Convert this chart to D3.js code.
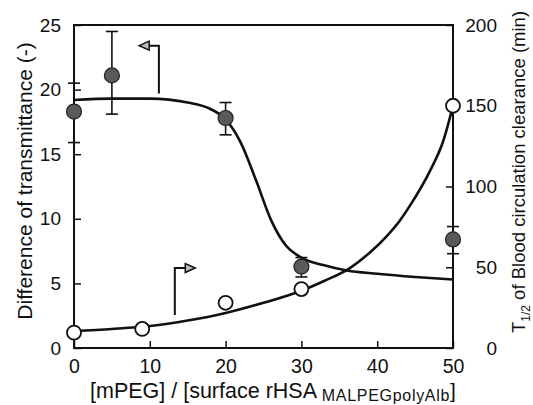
<!DOCTYPE html>
<html>
<head>
<meta charset="utf-8">
<script src="https://cdn.jsdelivr.net/npm/d3@7"></script>
<style>
  html, body { margin: 0; padding: 0; background: #fff; }
  svg { display: block; font-family: "Liberation Sans", Arial, Helvetica, sans-serif; }
</style>
</head>
<body>
<svg id="chart" width="533" height="405"></svg>
<script>
// ---- data ----
const xTicks = [0, 10, 20, 30, 40, 50];
const leftTicks = [0, 5, 10, 15, 20, 25];
const rightTicks = [0, 50, 100, 150, 200];

// Difference of transmittance (filled circles, left axis)
const transX = [0, 5, 20, 30, 50];
const transY = [18.3, 21.1, 17.8, 6.3, 8.4];
const transHi = [20.5, 24.5, 19.0, 7.0, 9.4];
const transLo = [15.9, 18.1, 16.5, 5.5, 7.3];

// fitted curve for transmittance
const transCurveX = [0, 5, 10, 15, 18, 20, 22, 24, 26, 28, 30, 33, 36, 40, 45, 50];
const transCurveY = [19.2, 19.3, 19.3, 19.0, 18.5, 17.7, 15.9, 13.0, 9.9, 7.9, 7.0, 6.4, 6.0, 5.75, 5.5, 5.3];

// T1/2 of blood circulation clearance (open circles, right axis)
const halfX = [0, 9, 20, 30, 50];
const halfY = [9.5, 11.8, 28, 36.5, 150];

// fitted curve for T1/2
const halfCurveX = [0, 5, 10, 15, 20, 25, 30, 33, 36.4, 39, 41.3, 43, 44.3, 47, 48.7, 50];
const halfCurveY = [10.5, 11.8, 13.6, 17, 21.7, 28, 35.5, 41.5, 49.5, 59, 69.5, 79, 88, 110, 128, 150];

// direction arrows: [x of stem, y start, y end, x tip] in data units
const leftArrow = [11.2, 19.7, 23.4, 8.6];    // left axis units
const rightArrow = [13.3, 20.4, 49.5, 16.0];  // right axis units

// ---- layout ----
const svg = d3.select("#chart");
const L = 74, R = 453, T = 25, B = 348;
const x = d3.scaleLinear().domain([0, 50]).range([L, R]);
const yL = d3.scaleLinear().domain([0, 25]).range([B, T]);
const yR = d3.scaleLinear().domain([0, 200]).range([B, T]);

// frame
svg.append("rect").attr("x", L).attr("y", T).attr("width", R - L).attr("height", B - T)
  .attr("fill", "none").attr("stroke", "#111").attr("stroke-width", 2);

// axes with inward ticks
const axB = svg.append("g").attr("transform", `translate(0,${B})`)
  .call(d3.axisBottom(x).tickValues(xTicks).tickSize(-7).tickPadding(11).tickFormat(d3.format("d")));
axB.selectAll("text").attr("font-size", 19.5).attr("fill", "#111");

const axL = svg.append("g").attr("transform", `translate(${L},0)`)
  .call(d3.axisLeft(yL).tickValues(leftTicks).tickSize(-7).tickPadding(13).tickFormat(d3.format("d")));
axL.selectAll("text").attr("font-size", 19).attr("fill", "#111");

const axR = svg.append("g").attr("transform", `translate(${R},0)`)
  .call(d3.axisRight(yR).tickValues(rightTicks).tickSize(-7).tickPadding(10).tickFormat(d3.format("d")));
axR.selectAll("text").attr("font-size", 19).attr("fill", "#111")
  .attr("text-anchor", "end").attr("x", 44);

[axB, axL, axR].forEach(a => {
  a.select(".domain").remove();
  a.selectAll("line").attr("stroke", "#111").attr("stroke-width", 1.5);
  a.attr("font-family", null);
});

// curves
const transCurve = transCurveX.map((d, i) => [d, transCurveY[i]]);
const halfCurve = halfCurveX.map((d, i) => [d, halfCurveY[i]]);
svg.append("path").datum(transCurve)
  .attr("d", d3.line().x(d => x(d[0])).y(d => yL(d[1])).curve(d3.curveMonotoneX))
  .attr("fill", "none").attr("stroke", "#111").attr("stroke-width", 2.6);
svg.append("path").datum(halfCurve)
  .attr("d", d3.line().x(d => x(d[0])).y(d => yR(d[1])).curve(d3.curveMonotoneX))
  .attr("fill", "none").attr("stroke", "#111").attr("stroke-width", 2.6);

// arrows
function arrow(a, ys) {
  const sx = x(a[0]), y0 = ys(a[1]), y1 = ys(a[2]), tx = x(a[3]);
  const dir = tx < sx ? 1 : -1;
  svg.append("path").attr("d", `M${sx},${y0}V${y1}H${tx + dir * 9}`)
    .attr("fill", "none").attr("stroke", "#111").attr("stroke-width", 2);
  svg.append("path").attr("d", `M${tx},${y1}L${tx + dir * 10},${y1 - 4.5}L${tx + dir * 10},${y1 + 4.5}Z`)
    .attr("fill", "#bbb").attr("stroke", "#111").attr("stroke-width", 1.5);
}
arrow(leftArrow, yL);
arrow(rightArrow, yR);

// error bars
const eb = svg.append("g").attr("stroke", "#111").attr("stroke-width", 1.6);
transX.forEach((d, i) => {
  const cx = x(d);
  eb.append("line").attr("x1", cx).attr("x2", cx).attr("y1", yL(transHi[i])).attr("y2", yL(transLo[i]));
  [transHi[i], transLo[i]].forEach(v => {
    eb.append("line").attr("x1", cx - 6).attr("x2", cx + 6).attr("y1", yL(v)).attr("y2", yL(v));
  });
});

// filled circles
svg.append("g").selectAll("circle").data(transX).join("circle")
  .attr("cx", d => x(d)).attr("cy", (d, i) => yL(transY[i])).attr("r", 7.5)
  .attr("fill", "#5a5a5a").attr("stroke", "#222").attr("stroke-width", 1.2);

// open circles
svg.append("g").selectAll("circle").data(halfX).join("circle")
  .attr("cx", d => x(d)).attr("cy", (d, i) => yR(halfY[i])).attr("r", 7)
  .attr("fill", "#fff").attr("stroke", "#111").attr("stroke-width", 1.8);

// axis titles
svg.append("text").attr("transform", `translate(32,181) rotate(-90)`)
  .attr("text-anchor", "middle").attr("font-size", 21).attr("fill", "#111")
  .text("Difference of transmittance (-)");

const rt = svg.append("text").attr("transform", `translate(525,172) rotate(-90)`)
  .attr("text-anchor", "middle").attr("font-size", 18.5).attr("fill", "#111");
rt.append("tspan").text("T");
rt.append("tspan").attr("font-size", 12).attr("dy", 5).text("1/2");
rt.append("tspan").attr("dy", -5).text(" of Blood circulation clearance (min)");

const bt = svg.append("text").attr("x", 90).attr("y", 398).attr("font-size", 21.5).attr("fill", "#111");
bt.append("tspan").text("[mPEG] / [surface rHSA ");
bt.append("tspan").attr("font-size", 16).attr("letter-spacing", 0.7).attr("dy", 2.5).text("MALPEGpolyAlb");
bt.append("tspan").attr("dy", -2.5).attr("font-size", 21).text("]");
</script>
</body>
</html>
